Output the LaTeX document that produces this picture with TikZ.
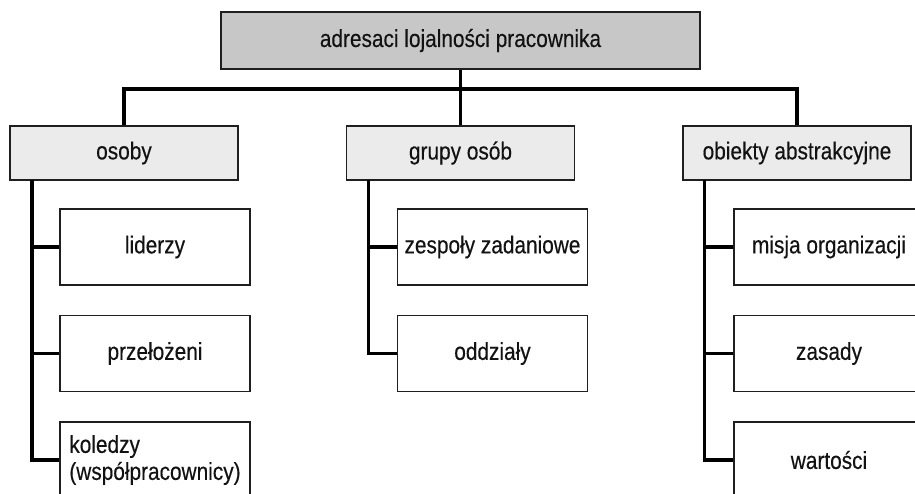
\documentclass[tikz,border=0pt]{standalone}
\usepackage{fontspec}
\setmainfont[FakeStretch=0.85,FakeBold=0.3]{Liberation Sans}
\begin{document}
\begin{tikzpicture}[x=1pt,y=-1pt,
  every node/.style={font=\fontsize{24.5}{27}\selectfont, text=black!93},
  rootbox/.style={draw=black!88, line width=1.6pt, fill=black!22,
    minimum width=479pt, minimum height=57pt, inner sep=0pt},
  groupbox/.style={draw=black!88, line width=1.6pt, fill=black!8,
    minimum width=228pt, minimum height=54pt, inner sep=0pt},
  itembox/.style={draw=black!88, line width=1.6pt, fill=white,
    minimum width=190pt, minimum height=76pt, inner sep=0pt, align=left},
  conn/.style={draw=black, line width=3.2pt}]
  \useasboundingbox (0,0) rectangle (915,494);
  \fill[white] (0,0) rectangle (915,494);
  \clip (0,0) rectangle (915,494);

  % root and first level
  \node[rootbox]  (top)     at (460.5,40.5) {adresaci lojalności pracownika};
  \node[groupbox] (osoby)   at (124,153)    {osoby};
  \node[groupbox] (grupy)   at (460.5,153)  {grupy osób};
  \node[groupbox] (obiekty) at (797,153)    {obiekty abstrakcyjne};

  % second level
  \node[itembox] (liderzy)  at (155,247)   {liderzy};
  \node[itembox] (przel)    at (155,353.5) {przełożeni};
  \node[itembox] (koledzy)  at (155,460)   {koledzy\\(współpracownicy)};
  \node[itembox] (zespoly)  at (492.5,247)   {zespoły zadaniowe};
  \node[itembox] (oddzialy) at (492.5,353.5) {oddziały};
  \node[itembox] (misja)    at (829,247)   {misja organizacji};
  \node[itembox] (zasady)   at (829,353.5) {zasady};
  \node[itembox] (wartosci) at (829,460)   {wartości};

  % bus between root and first level
  \coordinate (bus) at (460.5,89);
  \draw[conn] (top.south) -- (grupy.north);
  \draw[conn] (osoby.north) |- (obiekty.north |- bus) -- (obiekty.north);

  % spines of the second level
  \coordinate (s1) at (32,180);
  \coordinate (s2) at (368.5,180);
  \coordinate (s3) at (704.5,180);

  \draw[conn] (s1) |- (koledzy.west);
  \draw[conn] (s1 |- liderzy.west) -- (liderzy.west);
  \draw[conn] (s1 |- przel.west) -- (przel.west);

  \draw[conn] (s2) |- (oddzialy.west);
  \draw[conn] (s2 |- zespoly.west) -- (zespoly.west);

  \draw[conn] (s3) |- (wartosci.west);
  \draw[conn] (s3 |- misja.west) -- (misja.west);
  \draw[conn] (s3 |- zasady.west) -- (zasady.west);
\end{tikzpicture}
\end{document}
